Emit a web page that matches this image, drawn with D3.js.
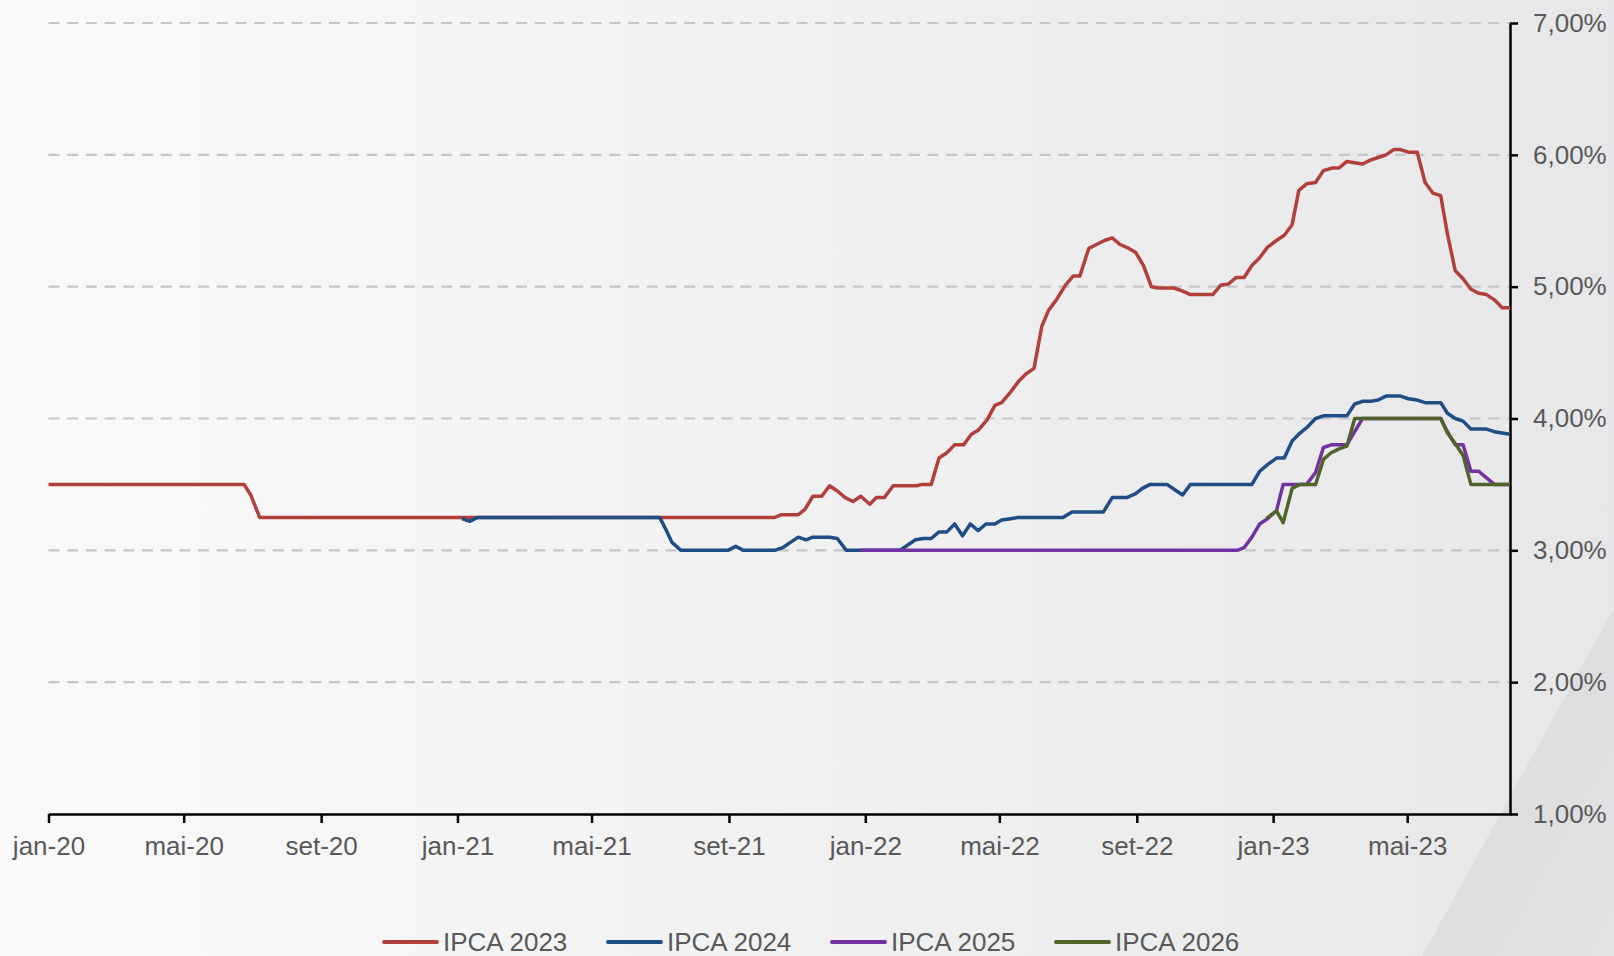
<!DOCTYPE html>
<html>
<head>
<meta charset="utf-8">
<script src="https://cdn.jsdelivr.net/npm/d3@7"></script>
<style>
	body { margin: 0; overflow: hidden; }
	svg { display: block; }
	text { font-family: "Liberation Sans", Arial, sans-serif; fill: #595959; }
</style>
</head>
<body>
<svg id="chart" width="1614" height="956"></svg>
<script>
// weekly Focus expectations, one vertex where the line turns
var datesIPCA2023 = ["2020-01-01", "2020-06-24", "2020-06-30", "2020-07-08", "2021-10-12", "2021-10-18", "2021-11-02", "2021-11-08", "2021-11-15", "2021-11-23", "2021-11-30", "2021-12-07", "2021-12-14", "2021-12-21", "2021-12-28", "2022-01-05", "2022-01-11", "2022-01-18", "2022-01-26", "2022-02-16", "2022-02-21", "2022-03-01", "2022-03-08", "2022-03-15", "2022-03-22", "2022-03-30", "2022-04-06", "2022-04-12", "2022-04-20", "2022-04-27", "2022-05-03", "2022-05-11", "2022-05-18", "2022-05-25", "2022-06-01", "2022-06-08", "2022-06-14", "2022-06-21", "2022-06-29", "2022-07-06", "2022-07-12", "2022-07-20", "2022-07-27", "2022-08-03", "2022-08-10", "2022-08-17", "2022-08-25", "2022-08-31", "2022-09-07", "2022-09-14", "2022-09-20", "2022-10-04", "2022-10-11", "2022-10-19", "2022-11-08", "2022-11-15", "2022-11-22", "2022-11-29", "2022-12-06", "2022-12-13", "2022-12-20", "2022-12-27", "2023-01-04", "2023-01-11", "2023-01-18", "2023-01-24", "2023-01-31", "2023-02-08", "2023-02-15", "2023-02-23", "2023-03-01", "2023-03-08", "2023-03-15", "2023-03-22", "2023-03-29", "2023-04-05", "2023-04-12", "2023-04-19", "2023-04-25", "2023-05-02", "2023-05-10", "2023-05-17", "2023-05-24", "2023-05-31", "2023-06-06", "2023-06-13", "2023-06-20", "2023-06-27", "2023-07-04", "2023-07-11", "2023-07-18", "2023-07-25", "2023-08-01"];
var valuesIPCA2023 = [3.50, 3.50, 3.42, 3.25, 3.25, 3.27, 3.27, 3.31, 3.41, 3.41, 3.49, 3.45, 3.40, 3.37, 3.41, 3.35, 3.40, 3.40, 3.49, 3.49, 3.50, 3.50, 3.70, 3.74, 3.80, 3.80, 3.88, 3.91, 3.99, 4.10, 4.12, 4.20, 4.28, 4.34, 4.38, 4.70, 4.82, 4.90, 5.01, 5.08, 5.08, 5.29, 5.32, 5.35, 5.37, 5.32, 5.29, 5.26, 5.16, 5.00, 4.99, 4.99, 4.97, 4.94, 4.94, 5.01, 5.02, 5.07, 5.07, 5.16, 5.22, 5.30, 5.35, 5.39, 5.47, 5.73, 5.78, 5.79, 5.88, 5.90, 5.90, 5.95, 5.94, 5.93, 5.96, 5.98, 6.00, 6.04, 6.04, 6.02, 6.02, 5.79, 5.71, 5.69, 5.40, 5.12, 5.06, 4.98, 4.95, 4.94, 4.90, 4.84, 4.84];

var datesIPCA2024 = ["2021-01-05", "2021-01-12", "2021-01-19", "2021-07-01", "2021-07-07", "2021-07-12", "2021-07-20", "2021-08-31", "2021-09-07", "2021-09-14", "2021-10-12", "2021-10-19", "2021-10-26", "2021-11-02", "2021-11-09", "2021-11-15", "2021-11-30", "2021-12-07", "2021-12-15", "2022-02-01", "2022-02-08", "2022-02-15", "2022-02-22", "2022-03-01", "2022-03-08", "2022-03-15", "2022-03-22", "2022-03-29", "2022-04-05", "2022-04-12", "2022-04-19", "2022-04-27", "2022-05-03", "2022-05-11", "2022-05-18", "2022-06-27", "2022-07-05", "2022-08-02", "2022-08-10", "2022-08-23", "2022-08-31", "2022-09-06", "2022-09-13", "2022-09-28", "2022-10-05", "2022-10-12", "2022-10-19", "2022-12-13", "2022-12-20", "2022-12-27", "2023-01-04", "2023-01-11", "2023-01-18", "2023-01-25", "2023-01-31", "2023-02-08", "2023-02-15", "2023-03-08", "2023-03-15", "2023-03-22", "2023-03-29", "2023-04-05", "2023-04-12", "2023-04-25", "2023-05-02", "2023-05-10", "2023-05-17", "2023-05-24", "2023-05-31", "2023-06-06", "2023-06-13", "2023-06-20", "2023-06-27", "2023-07-11", "2023-07-18", "2023-07-25", "2023-08-01"];
var valuesIPCA2024 = [3.24, 3.22, 3.25, 3.25, 3.15, 3.06, 3.00, 3.00, 3.03, 3.00, 3.00, 3.02, 3.06, 3.10, 3.08, 3.10, 3.10, 3.09, 3.00, 3.00, 3.04, 3.08, 3.09, 3.09, 3.14, 3.14, 3.20, 3.11, 3.20, 3.15, 3.20, 3.20, 3.23, 3.24, 3.25, 3.25, 3.29, 3.29, 3.40, 3.40, 3.43, 3.47, 3.50, 3.50, 3.46, 3.42, 3.50, 3.50, 3.60, 3.65, 3.70, 3.70, 3.83, 3.89, 3.93, 4.00, 4.02, 4.02, 4.11, 4.13, 4.13, 4.14, 4.17, 4.17, 4.15, 4.14, 4.12, 4.12, 4.12, 4.04, 4.00, 3.98, 3.92, 3.92, 3.90, 3.89, 3.88];

var datesIPCA2025 = ["2021-12-28", "2022-11-30", "2022-12-06", "2022-12-13", "2022-12-20", "2022-12-27", "2023-01-04", "2023-01-10", "2023-01-31", "2023-02-08", "2023-02-15", "2023-02-22", "2023-03-08", "2023-03-15", "2023-03-22", "2023-05-31", "2023-06-06", "2023-06-13", "2023-06-20", "2023-06-27", "2023-07-04", "2023-07-11", "2023-07-18", "2023-08-01"];
var valuesIPCA2025 = [3.00, 3.00, 3.02, 3.10, 3.20, 3.24, 3.30, 3.50, 3.50, 3.59, 3.78, 3.80, 3.80, 3.90, 4.00, 4.00, 3.90, 3.80, 3.80, 3.60, 3.60, 3.55, 3.50, 3.50];

var datesIPCA2026 = ["2022-12-26", "2023-01-04", "2023-01-10", "2023-01-18", "2023-01-25", "2023-02-08", "2023-02-15", "2023-02-22", "2023-03-01", "2023-03-08", "2023-03-15", "2023-05-31", "2023-06-06", "2023-06-13", "2023-06-20", "2023-06-27", "2023-08-01"];
var valuesIPCA2026 = [3.24, 3.30, 3.21, 3.47, 3.50, 3.50, 3.69, 3.74, 3.77, 3.79, 4.00, 4.00, 3.89, 3.81, 3.72, 3.50, 3.50];

var seriesNames = ["IPCA 2023", "IPCA 2024", "IPCA 2025", "IPCA 2026"];
var seriesColors = ["#b1403c", "#1f4e85", "#7332a3", "#506328"];

var xTickDates = ["2020-01-01", "2020-05-01", "2020-09-01", "2021-01-01", "2021-05-01", "2021-09-01", "2022-01-01", "2022-05-01", "2022-09-01", "2023-01-01", "2023-05-01"];
var xTickLabels = ["jan-20", "mai-20", "set-20", "jan-21", "mai-21", "set-21", "jan-22", "mai-22", "set-22", "jan-23", "mai-23"];
var yTicks = [1, 2, 3, 4, 5, 6, 7];

(function () {
	var parse = d3.timeParse('%Y-%m-%d');
	var svg = d3.select('#chart');

	var left = 48.5, right = 1510, top = 23, bottom = 814;

	var x = d3.scaleTime()
		.domain([parse('2020-01-01'), parse('2023-08-01')])
		.range([left, right]);
	var y = d3.scaleLinear()
		.domain([1, 7])
		.range([bottom, top]);

	// background
	var defs = svg.append('defs');
	var bg = defs.append('linearGradient').attr('id', 'bg')
		.attr('x1', '0%').attr('y1', '0%').attr('x2', '100%').attr('y2', '0%');
	bg.append('stop').attr('offset', '0%').attr('stop-color', '#fafafb');
	bg.append('stop').attr('offset', '55%').attr('stop-color', '#f0f0f1');
	bg.append('stop').attr('offset', '100%').attr('stop-color', '#e7e7e9');
	var wedge = defs.append('linearGradient').attr('id', 'wedge')
		.attr('x1', '0%').attr('y1', '0%').attr('x2', '100%').attr('y2', '100%');
	wedge.append('stop').attr('offset', '0%').attr('stop-color', '#d9d9db');
	wedge.append('stop').attr('offset', '100%').attr('stop-color', '#e3e3e5');

	svg.append('rect')
		.attr('width', 1614).attr('height', 956)
		.attr('fill', 'url(#bg)');
	svg.append('path')
		.attr('d', 'M1614,608L1614,956L1422,956Z')
		.attr('fill', 'url(#wedge)');

	// gridlines
	svg.append('g').selectAll('line')
		.data(yTicks.slice(1))
		.enter().append('line')
		.attr('x1', left)
		.attr('x2', right)
		.attr('y1', function (d) { return y(d); })
		.attr('y2', function (d) { return y(d); })
		.attr('stroke', '#c6c6c8')
		.attr('stroke-width', 2.2)
		.attr('stroke-dasharray', '11,7.7');

	// axes
	var xAxis = d3.axisBottom(x)
		.tickValues(xTickDates.map(parse))
		.tickFormat(function (d, i) { return xTickLabels[i]; })
		.tickSize(9)
		.tickSizeOuter(0)
		.tickPadding(14);
	var gx = svg.append('g')
		.attr('transform', 'translate(0,' + bottom + ')')
		.call(xAxis);

	var pt = d3.formatLocale({ decimal: ',', thousands: '.', grouping: [3], currency: ['R$', ''] }).format('.2f');
	var yAxis = d3.axisRight(y)
		.tickValues(yTicks)
		.tickFormat(function (d) { return pt(d) + '%'; })
		.tickSize(8)
		.tickSizeOuter(0)
		.tickPadding(15);
	var gy = svg.append('g')
		.attr('transform', 'translate(' + right + ',0)')
		.call(yAxis);

	[gx, gy].forEach(function (g) {
		g.select('.domain').attr('stroke', '#000').attr('stroke-width', 2.5);
		g.selectAll('.tick line').attr('stroke', '#000').attr('stroke-width', 2.5);
		g.selectAll('.tick text')
			.attr('fill', '#595959')
			.style('font-family', '"Liberation Sans", Arial, sans-serif')
			.style('font-size', '26px');
	});

	// series
	var allDates = [datesIPCA2023, datesIPCA2024, datesIPCA2025, datesIPCA2026];
	var allValues = [valuesIPCA2023, valuesIPCA2024, valuesIPCA2025, valuesIPCA2026];
	var series = seriesNames.map(function (name, i) {
		return {
			name: name,
			color: seriesColors[i],
			points: allDates[i].map(function (d, j) {
				return { date: parse(d), value: allValues[i][j] };
			})
		};
	});

	var line = d3.line()
		.x(function (d) { return x(d.date); })
		.y(function (d) { return y(d.value); });

	svg.append('g').selectAll('path')
		.data(series)
		.enter().append('path')
		.attr('d', function (d) { return line(d.points); })
		.attr('fill', 'none')
		.attr('stroke', function (d) { return d.color; })
		.attr('stroke-width', 3.5)
		.attr('stroke-linejoin', 'round');

	// legend
	var legend = svg.append('g').selectAll('g')
		.data(series)
		.enter().append('g')
		.attr('transform', function (d, i) {
			return 'translate(' + (384 + i * 224) + ',942)';
		});
	legend.append('line')
		.attr('x1', 0).attr('x2', 53)
		.attr('stroke', function (d) { return d.color; })
		.attr('stroke-width', 4)
		.attr('stroke-linecap', 'round');
	legend.append('text')
		.attr('x', 59)
		.attr('y', 8.5)
		.style('font-size', '26px')
		.text(function (d) { return d.name; });
}());
</script>
</body>
</html>
